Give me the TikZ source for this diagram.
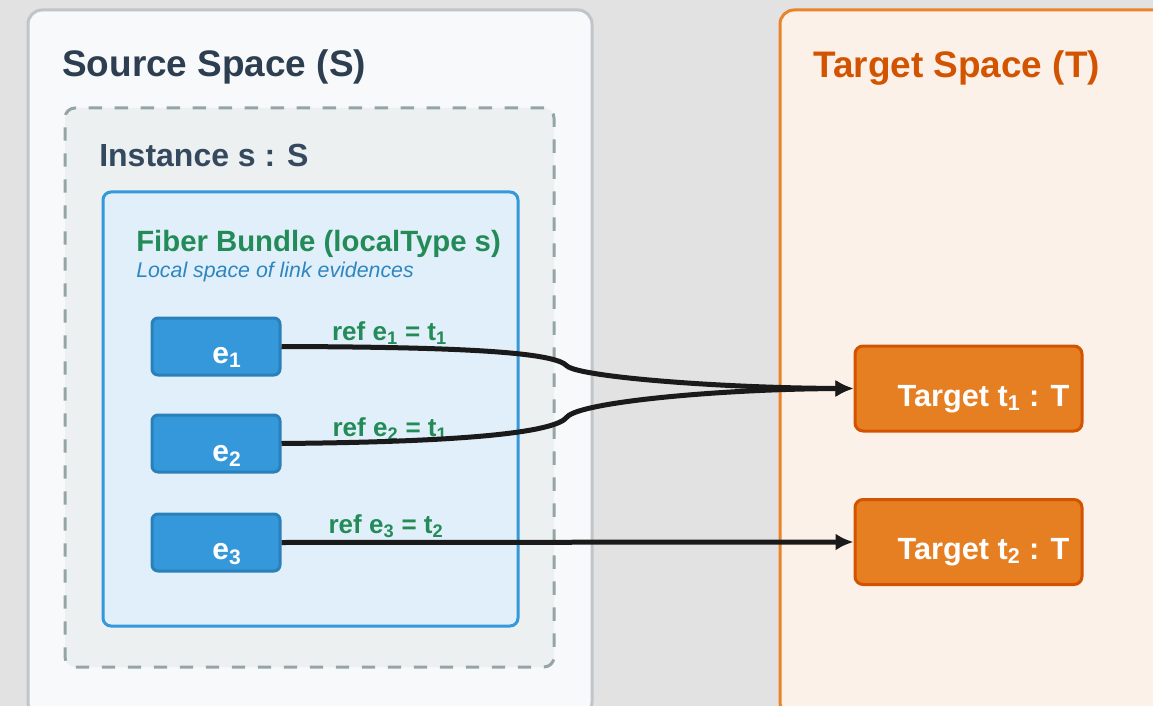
\documentclass[tikz,border=0pt]{standalone}
\usepackage{fontspec}
\setmainfont{Liberation Sans}
\usetikzlibrary{arrows.meta}

\definecolor{pagebg}{HTML}{E2E2E2}
\definecolor{srcfill}{HTML}{F7F9FA}
\definecolor{srcline}{HTML}{BFC5CA}
\definecolor{srctitle}{HTML}{2C3E50}
\definecolor{instfill}{HTML}{ECF0F1}
\definecolor{instline}{HTML}{95A5A6}
\definecolor{insttitle}{HTML}{34495E}
\definecolor{fibfill}{HTML}{E1EFFA}
\definecolor{fibline}{HTML}{3498DB}
\definecolor{fibtitle}{HTML}{238B57}
\definecolor{fibnote}{HTML}{2E86C1}
\definecolor{efill}{HTML}{3498DB}
\definecolor{eline}{HTML}{2A80B9}
\definecolor{tgtfill}{HTML}{FCF1E9}
\definecolor{tgtline}{HTML}{E98428}
\definecolor{tgttitle}{HTML}{D35400}
\definecolor{tfill}{HTML}{E67E22}
\definecolor{tline}{HTML}{D35400}
\definecolor{linkcol}{HTML}{1A1A1A}

\begin{document}
\begin{tikzpicture}[x=0.75pt, y=-0.75pt, every node/.style={font=\bfseries},
  space/.style={draw, line width=2.25pt, rounded corners=10.5pt, inner sep=0pt},
  inst/.style={draw=instline, fill=instfill, line width=2.25pt, dash pattern=on 10pt off 9.5pt,
    rounded corners=7.5pt, inner sep=0pt, minimum width=366.75pt, minimum height=419.25pt},
  fiber/.style={draw=fibline, fill=fibfill, line width=2.25pt, rounded corners=6pt,
    inner sep=0pt, minimum width=311.25pt, minimum height=325.5pt},
  ebox/.style={draw=eline, fill=efill, line width=2.25pt, rounded corners=4.5pt,
    inner sep=0pt, minimum width=96pt, minimum height=42.75pt},
  tbox/.style={draw=tline, fill=tfill, line width=2.25pt, rounded corners=6pt,
    inner sep=0pt, minimum width=170.25pt, minimum height=63.75pt},
  bigtitle/.style={anchor=base west, inner sep=0pt, font=\bfseries\fontsize{27.7}{32}\selectfont},
  etext/.style={anchor=base, inner sep=0pt, text=white, font=\bfseries\fontsize{22.5}{26}\selectfont},
  ttext/.style={anchor=base, inner sep=0pt, text=white, font=\bfseries\fontsize{23}{27}\selectfont},
  reflbl/.style={anchor=base, inner sep=0pt, text=fibtitle, font=\bfseries\fontsize{19.5}{23}\selectfont},
  link/.style={draw=linkcol, line width=3.75pt, -{Latex[length=13.5pt,width=12.75pt]}}]
  \useasboundingbox (0,0) rectangle (1153,706);
  \clip (0,0) rectangle (1153,706);
  \fill[pagebg] (0,0) rectangle (1153,706);
  % the two spaces
  \node[space, draw=srcline, fill=srcfill, minimum width=423pt, minimum height=529.5pt] (source) at (310,363) {};
  \node[space, draw=tgtline, fill=tgtfill, minimum width=292.5pt, minimum height=529.5pt] (target) at (975,363) {};
  \node[bigtitle, text=srctitle] (srcname) at (62,77) {Source Space (S)};
  \node[bigtitle, text=tgttitle] (tgtname) at (813,78) {Target Space (T)};
  % instance and its fiber
  \node[inst] (inst) at (309.5,387.5) {};
  \node[anchor=base west, inner sep=0pt, text=insttitle, font=\bfseries\fontsize{24}{28}\selectfont] (instname) at (99,167) {Instance s : S};
  \node[fiber] (fiber) at (310.5,409) {};
  \node[anchor=base west, inner sep=0pt, text=fibtitle, font=\bfseries\fontsize{22}{26}\selectfont] (fibname) at (136,251) {Fiber Bundle (localType s)};
  \node[anchor=base west, inner sep=0pt, text=fibnote, font=\itshape\fontsize{16}{19}\selectfont] (fibnote) at (136,277) {Local space of link evidences};
  % evidences
  \node[ebox] (e1) at (216,346.5) {};
  \node[ebox] (e2) at (216,443.5) {};
  \node[ebox] (e3) at (216,542.5) {};
  \node[etext] (e1l) at (227,363) {e\textsubscript{1}};
  \node[etext] (e2l) at (227,461) {e\textsubscript{2}};
  \node[etext] (e3l) at (227,559) {e\textsubscript{3}};
  % targets
  \node[tbox] (t1) at (968.5,388.5) {};
  \node[tbox] (t2) at (968.5,542) {};
  \node[ttext] (t1l) at (983.5,406) {Target t\textsubscript{1} : T};
  \node[ttext] (t2l) at (983.5,559) {Target t\textsubscript{2} : T};
  % ref labels
  \node[reflbl] (r1) at (389.5,340) {ref e\textsubscript{1} = t\textsubscript{1}};
  \node[reflbl] (r2) at (390,436) {ref e\textsubscript{2} = t\textsubscript{1}};
  \node[reflbl] (r3) at (386,533) {ref e\textsubscript{3} = t\textsubscript{2}};
  % links
  \draw[link] (e1.east) .. controls (460,347) and (555,352) .. (567,366) .. controls (580,377) and (720,388) .. (t1.west);
  \draw[link] (e2.east) .. controls (460,442) and (555,433) .. (567,417) .. controls (580,402) and (720,389) .. (t1.west);
  \draw[link] (e3.east) -- (t2.west);
\end{tikzpicture}
\end{document}
